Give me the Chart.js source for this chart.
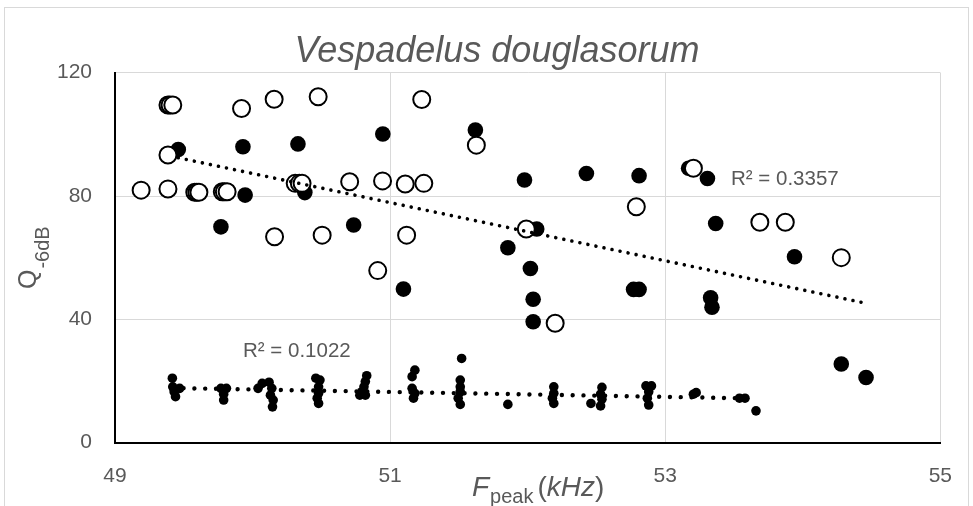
<!DOCTYPE html>
<html><head><meta charset="utf-8">
<script src="https://cdn.jsdelivr.net/npm/chart.js@4.4.0/dist/chart.umd.min.js"></script>
<style>
html,body{margin:0;padding:0;background:#fff;}
#wrap{position:absolute;left:0;top:0;width:973px;height:506px;overflow:hidden;}
#frame{position:absolute;left:4px;top:7px;width:965px;height:530px;border:1px solid #d9d9d9;box-sizing:border-box;}
#c{position:absolute;left:0;top:0;}
</style></head><body>
<div id="wrap"><div id="frame"></div><canvas id="c" width="973" height="506"></canvas></div>
<script>
// ---- data ----
const titleText = "Vespadelus douglasorum";
const xTicks = [49, 51, 53, 55];
const yTicks = [0, 40, 80, 120];

const openX = [49.19,49.385,49.385,49.40,49.42,49.385,49.58,49.595,49.61,49.78,49.795,49.815,49.92,50.157,50.16,50.31,50.34,50.36,50.477,50.506,50.706,50.91,50.945,51.11,51.12,51.23,51.245,51.627,51.99,52.2,52.79,53.205,53.688,53.873,54.28];
const openY = [81.9,82.3,109.5,109.5,109.5,93.3,81.2,81.2,81.2,81.4,81.4,81.4,108.4,111.4,66.8,84.1,84.1,84.1,112.2,67.3,84.6,55.8,84.9,83.9,67.3,111.3,84.1,96.5,69.3,38.7,76.5,89.0,71.5,71.5,60.0];

const filledX = [49.46,49.77,49.93,49.946,50.33,50.38,50.735,50.947,51.097,51.62,51.856,51.977,52.02,52.04,52.04,52.066,52.427,52.77,52.81,52.81,53.17,53.307,53.33,53.34,53.367,53.94,54.28,54.46];
const filledY = [95.1,70.0,96.0,80.3,96.9,81.1,70.6,100.1,49.8,101.4,63.2,85.2,56.5,46.5,39.2,69.3,87.3,49.7,49.7,86.6,89.0,85.7,47.0,43.9,71.1,60.3,25.5,21.1];

const smallX = [49.417,49.42,49.43,49.44,49.47,49.77,49.81,49.79,49.79,50.04,50.07,50.12,50.14,50.13,50.15,50.145,50.46,50.49,50.48,50.48,50.47,50.48,50.83,50.82,50.81,50.795,50.82,50.78,51.18,51.16,51.16,51.18,51.17,51.52,51.51,51.51,51.51,51.495,51.51,51.856,52.19,52.19,52.18,52.19,52.46,52.54,52.53,52.54,52.53,52.86,52.90,52.88,52.87,52.88,53.205,53.225,53.54,53.58,53.66];
const smallY = [20.9,18.1,16.5,14.9,17.6,17.6,17.6,15.7,13.8,17.6,19.2,19.6,17.6,15.4,13.8,11.6,20.9,20.3,18.1,16.0,14.4,12.7,21.7,19.8,18.1,16.5,15.4,15.4,23.5,21.4,17.6,16.0,14.4,27.3,20.3,18.1,16.5,14.4,12.4,12.4,18.1,16.0,14.4,12.7,12.7,17.9,15.7,14.1,11.9,18.4,18.4,16.5,14.4,12.2,15.7,16.2,14.4,14.4,10.3];

const upperTrendX = [49.46, 54.46];
const upperTrendY = [92.4, 45.2];
const lowerTrendX = [49.42, 53.66];
const lowerTrendY = [17.7, 14.3];
const upperR2 = "R\u00B2 = 0.3357";
const lowerR2 = "R\u00B2 = 0.1022";

// ---- build ----
const pts = (xs, ys) => xs.map((x, i) => ({x: x, y: ys[i]}));
const GRAY = '#595959';
const FONT = '"Liberation Sans", Arial, sans-serif';

const textPlugin = {
  id: 'texts',
  afterDraw(chart) {
    const ctx = chart.ctx;
    const xs = chart.scales.x, ys = chart.scales.y;
    ctx.save();
    ctx.fillStyle = GRAY;
    // title
    ctx.font = 'italic 36px ' + FONT;
    ctx.textAlign = 'center';
    ctx.textBaseline = 'alphabetic';
    ctx.fillText(titleText, 497, 62);
    // R2 labels
    ctx.font = '20.5px ' + FONT;
    ctx.textAlign = 'left';
    ctx.fillText(upperR2, 731, 185);
    ctx.fillText(lowerR2, 243, 357);
    // x axis title: F_peak (kHz)
    let x = 472, base = 496;
    ctx.font = 'italic 28px ' + FONT;
    ctx.fillText('F', x, base); x += ctx.measureText('F').width + 1;
    ctx.font = '20px ' + FONT;
    ctx.fillText('peak', x, base + 7); x += ctx.measureText('peak').width + 4;
    ctx.font = '28px ' + FONT;
    ctx.fillText('(', x, base); x += ctx.measureText('(').width;
    ctx.font = 'italic 28px ' + FONT;
    ctx.fillText('kHz', x, base); x += ctx.measureText('kHz').width;
    ctx.font = '28px ' + FONT;
    ctx.fillText(')', x, base);
    // y axis title: Q_-6dB
    ctx.translate(36, 289);
    ctx.rotate(-Math.PI / 2);
    ctx.font = '25px ' + FONT;
    ctx.fillText('Q', 0, 0);
    const qw = ctx.measureText('Q').width;
    ctx.font = '20px ' + FONT;
    ctx.fillText('-6dB', qw + 1, 13);
    ctx.restore();
  }
};

new Chart(document.getElementById('c'), {
  type: 'scatter',
  data: {
    datasets: [
      { label: 'upper trend', data: pts(upperTrendX, upperTrendY), showLine: true, pointRadius: 0,
        borderColor: '#000', borderWidth: 3.6, borderDash: [0.01, 8.2], borderCapStyle: 'round', order: -1 },
      { label: 'lower trend', data: pts(lowerTrendX, lowerTrendY), showLine: true, pointRadius: 0,
        borderColor: '#000', borderWidth: 4.4, borderDash: [0.01, 10.8], borderCapStyle: 'round', order: -1 },
      { label: 'open', data: pts(openX, openY), pointRadius: 8.5, pointBorderWidth: 2,
        pointBackgroundColor: '#fff', pointBorderColor: '#000', order: 0 },
      { label: 'filled', data: pts(filledX, filledY), pointRadius: 7.8, pointBorderWidth: 0,
        pointBackgroundColor: '#000', pointBorderColor: '#000', order: 1 },
      { label: 'small', data: pts(smallX, smallY), pointRadius: 4.8, pointBorderWidth: 0,
        pointBackgroundColor: '#000', pointBorderColor: '#000', order: 2 }
    ]
  },
  options: {
    responsive: false,
    animation: false,
    devicePixelRatio: 1,
    layout: { padding: { left: 0, top: 72.7, right: 28, bottom: 0 } },
    plugins: { legend: { display: false }, tooltip: { enabled: false }, title: { display: false } },
    scales: {
      x: {
        type: 'linear', min: 49, max: 55,
        afterBuildTicks: s => { s.ticks = xTicks.map(v => ({value: v})); },
        afterFit: s => { s.height = 63.4; },
        ticks: { color: GRAY, font: { family: FONT, size: 21 }, padding: 21, maxRotation: 0 },
        grid: { color: '#d9d9d9', lineWidth: 1, drawTicks: false },
        border: { color: '#000', width: 2 }
      },
      y: {
        type: 'linear', min: 0, max: 120,
        afterBuildTicks: s => { s.ticks = yTicks.map(v => ({value: v})); },
        afterFit: s => { s.width = 115; },
        ticks: { color: GRAY, font: { family: FONT, size: 21 }, padding: 23 },
        grid: { color: '#d9d9d9', lineWidth: 1, drawTicks: false },
        border: { color: '#000', width: 2 }
      }
    }
  },
  plugins: [textPlugin]
});
</script>
</body></html>
